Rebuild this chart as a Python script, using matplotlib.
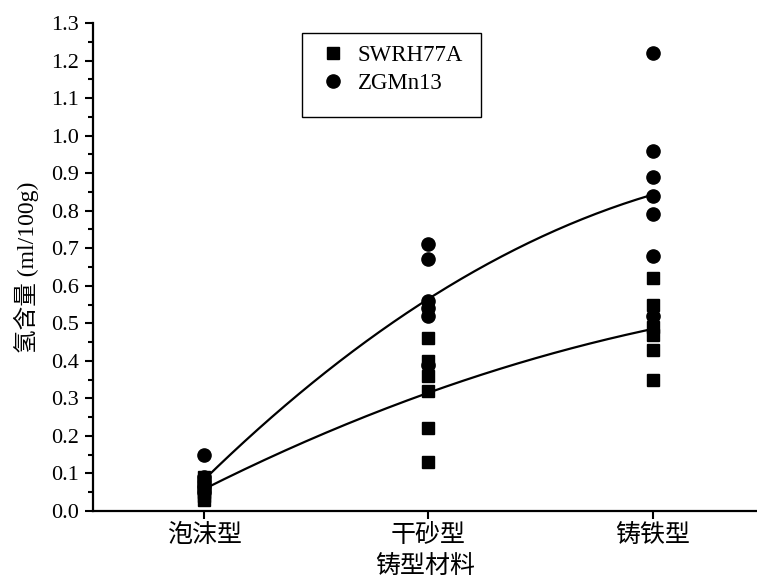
import numpy as np
import matplotlib
matplotlib.use("Agg")
from matplotlib import pyplot as plt
from matplotlib.lines import Line2D
from matplotlib.patches import Rectangle
from matplotlib.ticker import MultipleLocator

plt.rcParams['font.family'] = ['Liberation Serif', 'Noto Sans CJK SC']
plt.rcParams['axes.unicode_minus'] = False

categories = ["泡沫型", "干砂型", "铸铁型"]
swrh_vals = [
    [0.03, 0.04, 0.05, 0.06, 0.08, 0.09],
    [0.46, 0.40, 0.36, 0.32, 0.22, 0.13],
    [0.62, 0.55, 0.49, 0.47, 0.43, 0.35],
]
zgmn_vals = [
    [0.15, 0.09, 0.08, 0.07, 0.06, 0.05],
    [0.71, 0.67, 0.56, 0.54, 0.52, 0.39],
    [1.22, 0.96, 0.89, 0.84, 0.79, 0.68, 0.52],
]

fig = plt.figure(figsize=(7.57, 5.78), dpi=100)
ax = fig.add_axes([0.1229, 0.1159, 0.8771, 0.8443])

xpos = np.arange(1, len(categories) + 1)

# trend curves through the group means
xs = np.linspace(1, 3, 200)
for vals in (swrh_vals, zgmn_vals):
    means = [np.mean(v) for v in vals]
    coef = np.polyfit(xpos, means, 2)
    ax.plot(xs, np.polyval(coef, xs), color="black", lw=1.6, zorder=2)

for i, v in enumerate(swrh_vals):
    ax.plot([xpos[i]] * len(v), v, ls="none", marker="s", ms=8,
            color="black", zorder=3)
for i, v in enumerate(zgmn_vals):
    ax.plot([xpos[i]] * len(v), v, ls="none", marker="o", ms=9.5,
            color="black", zorder=3)

ax.set_xlim(0.505, 3.465)
ax.set_ylim(0, 1.3)
ax.set_xticks(xpos)
ax.set_xticklabels(categories, fontsize=18)
yt = np.round(np.arange(0, 1.31, 0.1), 1)
ax.set_yticks(yt)
ax.set_yticklabels(["%.1f" % t for t in yt])
ax.yaxis.set_minor_locator(MultipleLocator(0.05))
ax.tick_params(axis="y", which="major", direction="out", length=6, width=1.5,
               labelsize=16, pad=4)
ax.tick_params(axis="y", which="minor", direction="out", length=3.5, width=1.5)
ax.tick_params(axis="x", which="major", direction="out", length=6, width=1.5, pad=3)

for s in ("top", "right"):
    ax.spines[s].set_visible(False)
for s in ("left", "bottom"):
    ax.spines[s].set_linewidth(1.6)

ax.set_xlabel("铸型材料", fontsize=18, labelpad=6)
ax.set_ylabel("氢含量 (ml/100g)", fontsize=17, labelpad=9)

# legend box (origin-style, with empty space below the entries)
ax.add_patch(Rectangle((0.315, 0.807), 0.2696, 0.172, transform=ax.transAxes,
                       fill=False, edgecolor="black", lw=1.0, zorder=4))
handles = [
    Line2D([], [], ls="none", marker="s", ms=8, color="black"),
    Line2D([], [], ls="none", marker="o", ms=9.5, color="black"),
]
ax.legend(handles, ["SWRH77A", "ZGMn13"], loc="upper left",
          bbox_to_anchor=(0.342, 0.955), fontsize=16.5, frameon=False,
          handlelength=1.1, handletextpad=0.55, labelspacing=0.3,
          borderpad=0, borderaxespad=0)

fig.savefig("out.png", dpi=100)
